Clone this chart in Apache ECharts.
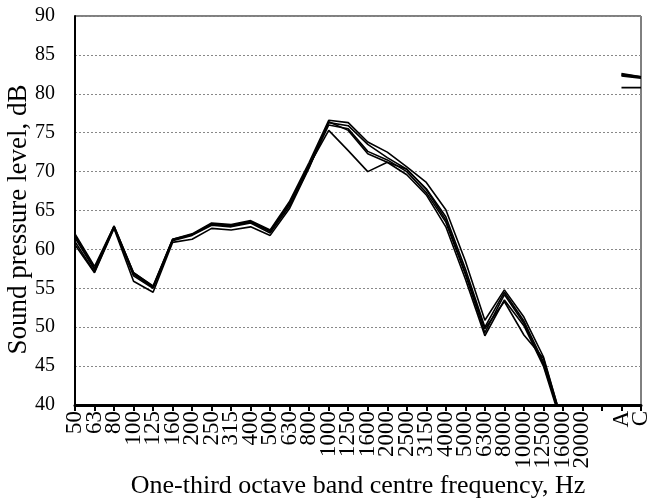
<!DOCTYPE html>
<html>
<head>
<meta charset="utf-8">
<script src="https://cdn.jsdelivr.net/npm/echarts@6/dist/echarts.min.js"></script>
<style>html,body{margin:0;padding:0;background:#fff;overflow:hidden}#c{width:649px;height:499px}</style>
</head>
<body>
<div id="c"></div>
<script>
var categories = ['50','63','80','100','125','160','200','250','315','400','500','630','800','1000','1250','1600','2000','2500','3150','4000','5000','6300','8000','10000','12500','16000','20000','','A','C'];
var yTicks = [40,45,50,55,60,65,70,75,80,85,90];
var s1 = [62.0,57.8,63.0,57.0,55.3,61.3,62.0,63.4,63.2,63.7,62.5,66.2,71.2,76.6,76.3,73.8,72.5,70.6,68.6,65.1,58.5,50.9,54.8,51.3,46.2,37.5,30,null,82.5,82.2];
var s2 = [61.5,57.4,62.9,56.8,55.1,61.2,61.9,63.2,63.0,63.5,62.3,65.9,70.9,76.3,75.9,73.5,71.8,70.3,67.8,64.2,57.5,50.0,54.5,50.8,45.5,37.2,30,null,82.4,82.1];
var s3 = [61.0,57.1,62.8,56.6,55.0,61.1,61.8,63.1,62.9,63.4,62.1,65.6,70.6,76.0,75.5,72.6,71.5,70.0,67.3,63.5,56.8,49.3,54.2,50.5,45.2,37.5,30,null,82.6,82.2];
var s4 = [60.6,57.0,62.7,55.9,54.5,60.9,61.3,62.7,62.5,62.9,61.8,65.3,70.5,76.4,75.3,72.3,71.2,69.6,67.0,62.9,56.2,48.9,53.5,50.2,45.0,37.0,30,null,82.3,82.0];
var s5 = [61.8,57.5,63.0,57.0,55.2,61.3,61.9,63.3,63.1,63.6,62.4,66.0,70.8,75.3,72.7,70.0,71.2,70.3,67.7,63.8,57.0,49.8,53.3,49.0,46.0,37.5,30,null,80.8,80.8];

var font = 'Liberation Serif, Times New Roman, serif';
var allSeries = [s1,s2,s3,s4,s5].map(function(d){
  return {type:'line', data:d, symbol:'none', clip:true, connectNulls:false,
    lineStyle:{color:'#000', width:1.6}, animation:false};
});
var chart = echarts.init(document.getElementById('c'));
chart.setOption({
  animation:false,
  grid:{left:75, right:8, top:16, bottom:94, show:true, borderColor:'#000', borderWidth:1,
    containLabel:false, outerBoundsMode:'none'},
  xAxis:{type:'category', data:categories, boundaryGap:false,
    name:'One-third octave band centre frequency, Hz', nameLocation:'middle', nameGap:68,
    nameMoveOverlap:false,
    nameTextStyle:{fontFamily:font, fontSize:26, color:'#000'},
    axisLine:{lineStyle:{color:'#000', width:3}},
    axisTick:{show:true, length:6, lineStyle:{color:'#000', width:2}, interval:0},
    axisLabel:{interval:0, rotate:90, fontFamily:font, fontSize:23, color:'#000', margin:6},
    splitLine:{show:false}},
  yAxis:{type:'value', min:yTicks[0], max:yTicks[yTicks.length-1], interval:5,
    name:'Sound pressure level, dB', nameLocation:'middle', nameGap:43, nameRotate:90,
    nameMoveOverlap:false,
    nameTextStyle:{fontFamily:font, fontSize:27, color:'#000', padding:[0,18,0,0]},
    axisLine:{show:true, lineStyle:{color:'#000', width:2}},
    axisTick:{show:false},
    axisLabel:{fontFamily:font, fontSize:20, color:'#000', margin:20},
    splitLine:{show:true, lineStyle:{color:'#888', type:[2,2], width:1}}},
  series: allSeries
});
</script>
</body>
</html>
